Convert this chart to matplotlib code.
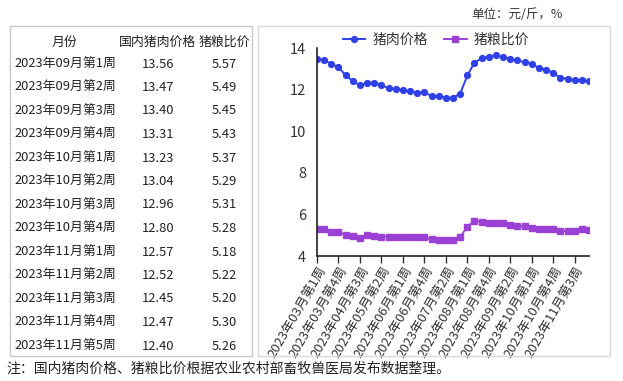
import matplotlib
matplotlib.use("Agg")
import matplotlib.pyplot as plt
from matplotlib.patches import Rectangle

plt.rcParams['font.family'] = ['Noto Sans CJK SC', 'DejaVu Sans']

# ---- data ----
month_weeks = [("03", 4), ("04", 4), ("05", 4), ("06", 5), ("07", 4),
               ("08", 5), ("09", 4), ("10", 4), ("11", 5)]
weeks = [f"2023年{m}月第{w}周" for m, n in month_weeks for w in range(1, n + 1)]

pork_price = [13.46, 13.43, 13.22, 13.09, 12.68, 12.42, 12.20, 12.34, 12.34, 12.21,
              12.07, 12.03, 11.98, 11.92, 11.85, 11.87, 11.69, 11.67, 11.61, 11.61,
              11.80, 12.68, 13.30, 13.50, 13.58, 13.64,
              13.56, 13.47, 13.40, 13.31, 13.23, 13.04, 12.96, 12.80, 12.57, 12.52,
              12.45, 12.47, 12.40]
hog_grain = [5.28, 5.28, 5.15, 5.15, 5.02, 4.96, 4.85, 5.01, 4.96, 4.93,
             4.93, 4.93, 4.93, 4.91, 4.91, 4.90, 4.80, 4.77, 4.75, 4.75,
             4.91, 5.41, 5.68, 5.65, 5.60, 5.58,
             5.57, 5.49, 5.45, 5.43, 5.37, 5.29, 5.31, 5.28, 5.18, 5.22,
             5.20, 5.30, 5.26]

table_header = ["月份", "国内猪肉价格", "猪粮比价"]
table_weeks = weeks[-13:]
table_price = ["13.56", "13.47", "13.40", "13.31", "13.23", "13.04", "12.96",
               "12.80", "12.57", "12.52", "12.45", "12.47", "12.40"]
table_ratio = ["5.57", "5.49", "5.45", "5.43", "5.37", "5.29", "5.31",
               "5.28", "5.18", "5.22", "5.20", "5.30", "5.26"]

W, H = 623, 381
fig = plt.figure(figsize=(W / 100, H / 100), dpi=100)

def fx(px):
    return px / W

def fy(py):
    return 1 - py / H

# ---- table ----
fig.patches.append(Rectangle((fx(10), fy(356)), fx(252) - fx(10), fy(26) - fy(356),
                             transform=fig.transFigure, fill=False,
                             edgecolor="#c8c8c8", linewidth=1.0))
txt_col = "#222222"
fs = 9.3
fig.text(fx(65), fy(42), table_header[0], ha="center", va="center", fontsize=fs, color=txt_col)
fig.text(fx(158), fy(42), table_header[1], ha="center", va="center", fontsize=fs, color=txt_col)
fig.text(fx(224), fy(42), table_header[2], ha="center", va="center", fontsize=fs, color=txt_col)
for i, (w, p, r) in enumerate(zip(table_weeks, table_price, table_ratio)):
    y = 64 + i * 23.5
    fig.text(fx(14), fy(y), w, ha="left", va="center", fontsize=fs, color=txt_col)
    fig.text(fx(158), fy(y), p, ha="center", va="center", fontsize=fs, color=txt_col)
    fig.text(fx(224), fy(y), r, ha="center", va="center", fontsize=fs, color=txt_col)

# ---- chart box ----
fig.patches.append(Rectangle((fx(258), fy(356)), fx(610) - fx(258), fy(26) - fy(356),
                             transform=fig.transFigure, fill=False,
                             edgecolor="#d8d8d8", linewidth=1.0))

fig.text(fx(563), fy(15), "单位：元/斤，%", ha="right", va="center", fontsize=9, color="#333333")
fig.text(fx(6), fy(369), "注：国内猪肉价格、猪粮比价根据农业农村部畜牧兽医局发布数据整理。",
         ha="left", va="center", fontsize=10, color="#222222")

ax = fig.add_axes([fx(317), fy(256), fx(589) - fx(317), fy(48) - fy(256)])
x = list(range(len(weeks)))
blue = "#2f40e6"
purple = "#9b40d4"
ax.plot(x, pork_price, color=blue, marker="o", markersize=4.2, linewidth=1.4, label="猪肉价格")
ax.plot(x, hog_grain, color=purple, marker="s", markersize=3.8, linewidth=1.4, label="猪粮比价")

ax.set_xlim(0, len(weeks) - 1)
ax.set_ylim(4, 14)
ax.set_yticks([4, 6, 8, 10, 12, 14])
ax.tick_params(axis="y", length=0, labelsize=10.5, labelcolor="#333333", pad=8)
tick_pos = x[::3]
ax.set_xticks(tick_pos)
ax.set_xticklabels([weeks[i] for i in tick_pos], rotation=60, ha="right",
                   rotation_mode="anchor", fontsize=9.4, color="#333333")
ax.tick_params(axis="x", length=5, width=1, color="#333333", pad=1)
for s in ["top", "right"]:
    ax.spines[s].set_visible(False)
for s in ["left", "bottom"]:
    ax.spines[s].set_color("#222222")
    ax.spines[s].set_linewidth(1.2)
ax.patch.set_alpha(0)

fig.legend(loc="center", bbox_to_anchor=(fx(436), fy(40)), ncol=2, frameon=False,
           fontsize=10, handlelength=1.6, handletextpad=0.5, columnspacing=1.2,
           labelcolor="#333333")

fig.savefig("out.png", dpi=100)
